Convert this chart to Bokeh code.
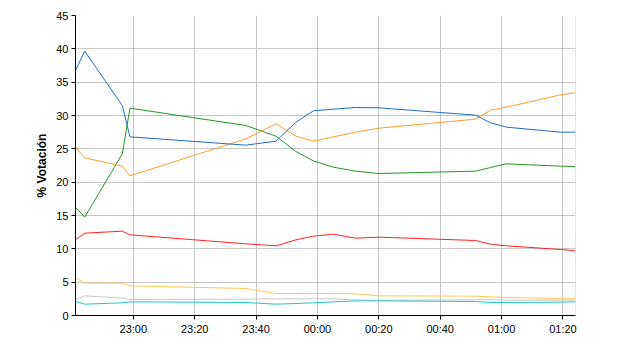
from datetime import datetime, timedelta
from bokeh.plotting import figure
from bokeh.models import Range1d, FixedTicker, DatetimeTickFormatter, Grid, Span
from bokeh.embed import file_html
from bokeh.resources import INLINE

# ---- data ----
times = ["22:41:10", "22:44:10", "22:56:25", "22:58:55", "23:36:40", "23:46:30",
         "23:53:00", "23:58:40", "00:05:10", "00:12:25", "00:20:05", "00:51:30",
         "00:56:25", "01:01:35", "01:19:10", "01:24:05"]

blue   = [36.75, 39.65, 31.5, 26.8, 25.55, 26.15, 29.0, 30.7, 30.95, 31.2, 31.15, 30.05, 28.9, 28.25, 27.5, 27.5]
orange = [25.25, 23.65, 22.4, 20.95, 26.5, 28.75, 26.9, 26.15, 26.8, 27.5, 28.1, 29.45, 30.8, 31.25, 33.1, 33.4]
green  = [16.25, 14.75, 24.25, 31.1, 28.5, 26.9, 24.6, 23.2, 22.25, 21.65, 21.3, 21.65, 22.2, 22.75, 22.4, 22.35]
red    = [11.35, 12.35, 12.65, 12.1, 10.75, 10.45, 11.35, 11.9, 12.2, 11.6, 11.75, 11.25, 10.7, 10.45, 9.9, 9.7]
yellow = [5.7, 4.85, 4.85, 4.45, 4.05, 3.3, 3.3, 3.3, 3.3, 3.25, 2.95, 2.9, 2.8, 2.7, 2.55, 2.5]
gray   = [2.45, 2.95, 2.6, 2.4, 2.45, 2.5, 2.5, 2.5, 2.5, 2.35, 2.3, 2.35, 2.35, 2.3, 2.3, 2.3]
cyan   = [2.1, 1.7, 1.9, 2.05, 1.95, 1.7, 1.8, 1.9, 2.05, 2.2, 2.2, 2.1, 1.95, 1.95, 2.0, 2.05]

x_tick_labels = ["23:00", "23:20", "23:40", "00:00", "00:20", "00:40", "01:00", "01:20"]
x_dotted_labels = ["23:00", "00:00", "00:20", "01:20"]
y_ticks = [0, 5, 10, 15, 20, 25, 30, 35, 40, 45]
y_dotted = [15, 30, 45]

series = [
    (gray, "#c8c8c8"),
    (cyan, "#22c8c8"),
    (yellow, "#ffc850"),
    (red, "#ff2222"),
    (green, "#22962a"),
    (orange, "#ff9a2e"),
    (blue, "#1f6fc8"),
]

# ---- helpers ----
base = datetime(2011, 11, 20)

def to_dt(s):
    h, m = int(s[:2]), int(s[3:5])
    sec = int(s[6:8]) if len(s) > 5 else 0
    d = base + timedelta(hours=h, minutes=m, seconds=sec)
    if h < 12:
        d += timedelta(days=1)
    return d

def to_ms(d):
    return (d - datetime(1970, 1, 1)).total_seconds() * 1000.0

xs = [to_dt(t) for t in times]
tick_ms = [to_ms(to_dt(t)) for t in x_tick_labels]
dotted_ms = [to_ms(to_dt(t)) for t in x_dotted_labels]
solid_ms = [t for t in tick_ms if t not in dotted_ms]
y_solid = [v for v in y_ticks if v not in y_dotted and v != 0]

p = figure(width=640, height=350, x_axis_type="datetime",
           output_backend="svg", toolbar_location=None,
           x_range=Range1d(xs[0], xs[-1]), y_range=Range1d(0, 45),
           min_border_left=75, min_border_right=64, min_border_top=15, min_border_bottom=35,
           frame_width=500, frame_height=300)
p.outline_line_color = None
p.background_fill_color = "white"
p.border_fill_color = "white"

# grids
p.xgrid.ticker = FixedTicker(ticks=solid_ms)
p.ygrid.ticker = FixedTicker(ticks=y_solid)
for g in (p.xgrid, p.ygrid):
    g.grid_line_color = "#c8c8c8"
    g.grid_line_width = 1
p.add_layout(Grid(dimension=0, ticker=FixedTicker(ticks=dotted_ms),
                  grid_line_color="#888888", grid_line_dash="1 1", grid_line_width=1))
p.add_layout(Grid(dimension=1, ticker=FixedTicker(ticks=y_dotted),
                  grid_line_color="#888888", grid_line_dash="1 1", grid_line_width=1))
p.add_layout(Span(location=to_ms(xs[-1]), dimension="height", line_color="#c8c8c8", line_width=1))

for vals, col in series:
    p.line(xs, vals, line_color=col, line_width=1)

# axes
p.xaxis.ticker = FixedTicker(ticks=tick_ms)
p.xaxis.formatter = DatetimeTickFormatter(seconds="%H:%M", minsec="%H:%M", minutes="%H:%M",
                                          hourmin="%H:%M", hours="%H:%M", days="%H:%M")
p.yaxis.ticker = FixedTicker(ticks=y_ticks)
p.yaxis.axis_label = "% Votación"
for ax in (p.xaxis[0], p.yaxis[0]):
    ax.axis_line_color = "black"
    ax.major_tick_line_color = "black"
    ax.major_tick_out = 4
    ax.major_tick_in = 0
    ax.minor_tick_line_color = None
    ax.major_label_text_font = "Liberation Sans"
    ax.major_label_text_font_size = "11px"
    ax.major_label_text_color = "black"
    ax.axis_label_text_font = "Liberation Sans"
    ax.axis_label_text_font_size = "12px"
    ax.axis_label_text_font_style = "bold"
    ax.axis_label_text_color = "black"
p.yaxis.major_label_standoff = 3
p.yaxis.axis_label_standoff = 4
p.xaxis.major_label_standoff = 3

open("out.html", "w").write(file_html(p, INLINE))
